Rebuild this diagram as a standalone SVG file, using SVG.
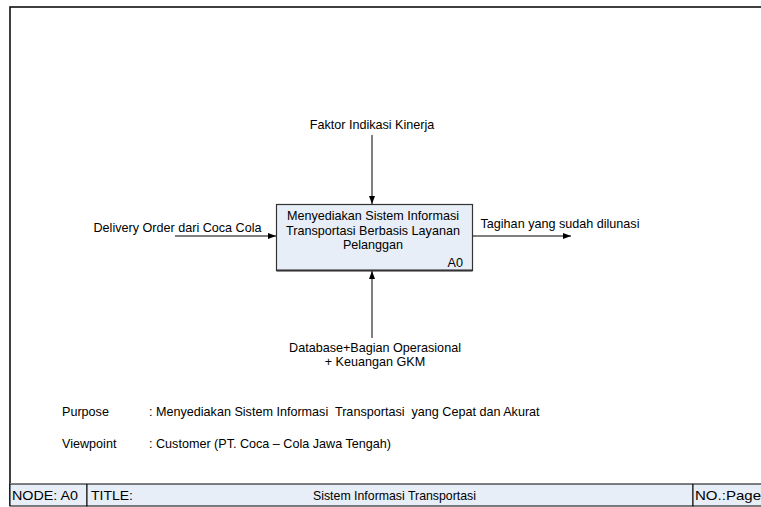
<svg xmlns="http://www.w3.org/2000/svg" width="761" height="507" viewBox="0 0 761 507">
  <style>
    text { font-family: "Liberation Sans", Arial, sans-serif; font-size: 12.6px; fill: #000; white-space: pre; }
    .foot { font-size: 13.5px; }
    .mid { text-anchor: middle; }
    .conn { stroke: #000; stroke-width: 1; fill: none; marker-end: url(#arrow); }
    .frame { fill: none; stroke: #000; stroke-width: 1.5; }
    .cell { fill: #e8eef7; stroke: #000; stroke-width: 1; }
  </style>
  <defs>
    <marker id="arrow" viewBox="0 0 8 8" refX="8" refY="4" markerWidth="8" markerHeight="8" markerUnits="userSpaceOnUse" orient="auto">
      <path d="M0,1 L8,4 L0,7 Z" fill="#000"/>
    </marker>
  </defs>

  <rect width="761" height="507" fill="#fff"/>

  <!-- page frame -->
  <path class="frame" d="M10,506 L10,7 L765,7"/>

  <!-- connectors -->
  <g id="connectors">
    <line class="conn" x1="372" y1="135" x2="372" y2="204"/>
    <line class="conn" x1="175" y1="236" x2="276" y2="236"/>
    <line class="conn" x1="473" y1="236" x2="571" y2="236"/>
    <line class="conn" x1="372" y1="338" x2="372" y2="271"/>
  </g>

  <!-- activity box -->
  <g id="A0">
    <rect x="276.5" y="204.5" width="196" height="66" fill="#e8eef8" stroke="#333" stroke-width="1.2"/>
    <line x1="276.5" y1="270.5" x2="472.5" y2="270.5" stroke="#333" stroke-width="2"/>
    <text class="mid" x="373" y="219.5">Menyediakan Sistem Informasi</text>
    <text class="mid" x="373" y="234.5">Transportasi Berbasis Layanan</text>
    <text class="mid" x="373" y="248.5">Pelanggan</text>
    <text x="463" y="266.5" text-anchor="end">A0</text>
  </g>

  <!-- arrow labels -->
  <g id="control">
    <text class="mid" x="372" y="129">Faktor Indikasi Kinerja</text>
  </g>
  <g id="input">
    <text class="mid" x="177.5" y="232">Delivery Order dari Coca Cola</text>
  </g>
  <g id="output">
    <text class="mid" x="560" y="228">Tagihan yang sudah dilunasi</text>
  </g>
  <g id="mechanism">
    <text class="mid" x="375" y="352">Database+Bagian Operasional</text>
    <text class="mid" x="375" y="366">+ Keuangan GKM</text>
  </g>

  <!-- purpose and viewpoint -->
  <g id="notes">
    <text x="62" y="416">Purpose</text>
    <text x="149" y="416">: Menyediakan Sistem Informasi  Transportasi  yang Cepat dan Akurat</text>
    <text x="62" y="448">Viewpoint</text>
    <text x="149" y="448">: Customer (PT. Coca – Cola Jawa Tengah)</text>
  </g>

  <!-- title block -->
  <g id="footer">
    <rect class="cell" x="10" y="484" width="77" height="22"/>
    <rect class="cell" x="87" y="484" width="606" height="22"/>
    <rect class="cell" x="693" y="484" width="72" height="22"/>
    <line x1="10" y1="483.5" x2="765" y2="483.5" stroke="#808080" stroke-width="1"/>
    <text class="foot" x="12" y="500" textLength="66" lengthAdjust="spacingAndGlyphs">NODE: A0</text>
    <text class="foot" x="91" y="500" textLength="42" lengthAdjust="spacingAndGlyphs">TITLE:</text>
    <text class="foot" x="313" y="500" textLength="163" lengthAdjust="spacingAndGlyphs">Sistem Informasi Transportasi</text>
    <text class="foot" x="695" y="500" textLength="66" lengthAdjust="spacingAndGlyphs">NO.:Page</text>
  </g>
</svg>
